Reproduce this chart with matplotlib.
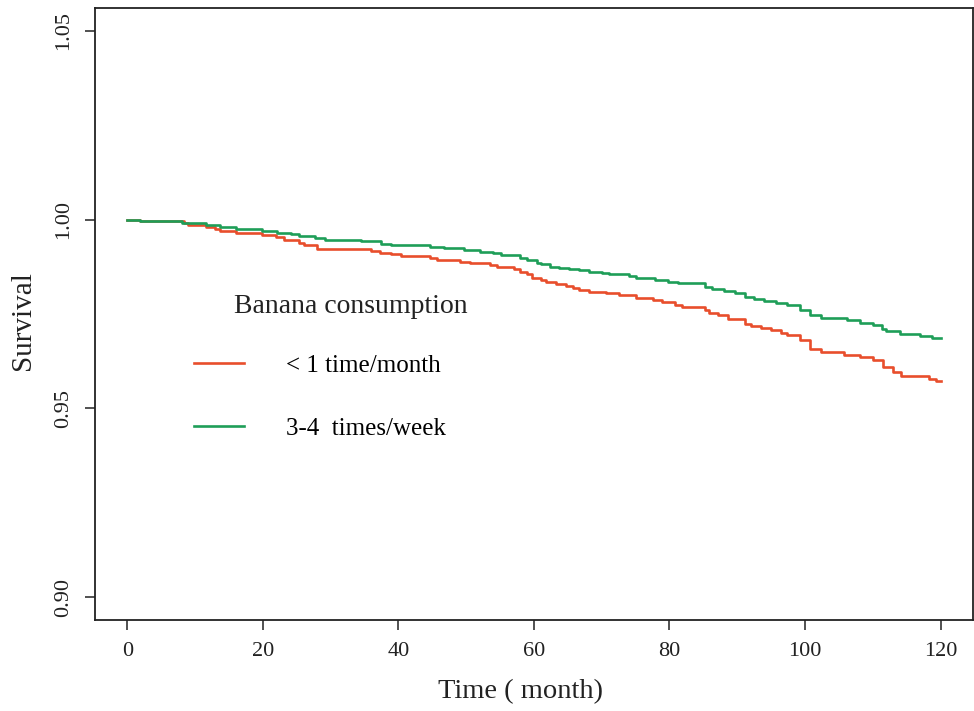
import matplotlib
matplotlib.use("Agg")
import matplotlib.pyplot as plt

plt.rcParams['font.family'] = ['Liberation Serif', 'DejaVu Serif']

# step times (month) and survival after each step
time_green = [0, 1.9, 8.0, 11.65, 13.6, 16.05, 19.9, 22.1, 24.1, 25.3, 27.7, 29.2,
              34.5, 37.4, 38.9, 44.7, 46.7, 49.6, 52.0, 54.0, 55.2, 57.9, 58.9, 60.4,
              61.1, 62.3, 63.7, 65.2, 66.6, 68.1, 70.1, 71.0, 74.0, 75.0, 77.9, 79.8,
              81.3, 85.2, 86.2, 88.1, 89.6, 91.1, 92.5, 94.0, 95.7, 97.4, 99.3, 100.8,
              102.3, 106.2, 108.1, 110.1, 111.3, 112.0, 114.0, 116.9, 118.8, 120]
surv_green = [1.0, 0.99952, 0.99907, 0.99862, 0.99809, 0.99739, 0.99686, 0.99641, 0.99614,
              0.99569, 0.99508, 0.99468, 0.99420, 0.99356, 0.99330, 0.99269, 0.99242,
              0.99197, 0.99154, 0.99109, 0.99064, 0.98995, 0.98931, 0.98862, 0.98816,
              0.98755, 0.98729, 0.98691, 0.98657, 0.98622, 0.98577, 0.98551, 0.98505,
              0.98463, 0.98399, 0.98356, 0.98311, 0.98223, 0.98160, 0.98106, 0.98045,
              0.97957, 0.97894, 0.97851, 0.97798, 0.97734, 0.97601, 0.97468, 0.97399,
              0.97335, 0.97274, 0.97221, 0.97114, 0.97043, 0.96963, 0.96910, 0.96875,
              0.96875]

time_red = [0, 1.9, 8.3, 9.0, 11.65, 12.9, 13.6, 16.05, 19.9, 21.9, 23.1, 25.3, 26.0,
            27.9, 36.0, 37.2, 38.9, 40.4, 44.7, 45.7, 49.1, 50.6, 53.5, 54.5, 57.0,
            57.9, 58.9, 59.7, 61.1, 61.8, 63.3, 64.7, 65.7, 66.6, 68.1, 70.6, 72.5,
            75.0, 77.5, 78.9, 80.8, 81.8, 85.2, 85.9, 87.1, 88.6, 91.1, 92.0, 93.5,
            95.0, 96.4, 97.4, 99.3, 100.8, 102.3, 105.7, 108.1, 110.1, 111.5, 113.0,
            114.2, 118.3, 119.3, 120]
surv_red = [1.0, 0.99952, 0.99907, 0.99846, 0.99801, 0.99755, 0.99686, 0.99641, 0.99596,
            0.99527, 0.99463, 0.99375, 0.99314, 0.99223, 0.99181, 0.99128, 0.99082,
            0.99048, 0.98995, 0.98931, 0.98888, 0.98862, 0.98798, 0.98755, 0.98684,
            0.98622, 0.98551, 0.98463, 0.98399, 0.98338, 0.98285, 0.98250, 0.98197,
            0.98133, 0.98090, 0.98045, 0.98000, 0.97931, 0.97867, 0.97806, 0.97734,
            0.97691, 0.97601, 0.97540, 0.97468, 0.97380, 0.97247, 0.97186, 0.97133,
            0.97069, 0.97008, 0.96936, 0.96803, 0.96582, 0.96495, 0.96423, 0.96362,
            0.96271, 0.96096, 0.95963, 0.95872, 0.95785, 0.95739, 0.95739]

x_ticks = [0, 20, 40, 60, 80, 100, 120]
y_ticks = [0.90, 0.95, 1.00, 1.05]
y_ticklabels = ['0.90', '0.95', '1.00', '1.05']
labels = ['< 1 time/month', '3-4  times/week']

fig = plt.figure(figsize=(9.74, 7.11), dpi=100)
ax = fig.add_axes([0.0975, 0.128, 0.9015, 0.8607])

l_red, = ax.step(time_red, surv_red, where='post', color='#E84E2C', lw=1.9)
l_green, = ax.step(time_green, surv_green, where='post', color='#1E9E58', lw=1.9)

ax.set_xlim(-4.8, 124.8)
ax.set_ylim(0.894, 1.056)
ax.set_xticks(x_ticks)
ax.set_yticks(y_ticks)
ax.set_yticklabels(y_ticklabels, rotation=90, va='center')
ax.tick_params(direction='out', length=7.5, width=1.1, labelsize=16, pad=8,
               color='#222222', labelcolor='#222222')
for s in ax.spines.values():
    s.set_linewidth(1.3)
    s.set_color('#222222')

ax.set_xlabel('Time ( month)', fontsize=20.5, color='#222222', va='center')
ax.xaxis.set_label_coords(0.485, -0.1176)
ax.set_ylabel('Survival', fontsize=21, color='#222222', va='center')
ax.yaxis.set_label_coords(-0.082, 0.489)

ax.text(0.158, 0.513, 'Banana consumption', transform=ax.transAxes,
        fontsize=20, ha='left', va='center', color='#222222')
ax.legend([l_red, l_green], labels, loc='upper left', bbox_to_anchor=(0.098, 0.454),
          frameon=False, fontsize=18, handlelength=2.0, handletextpad=1.7,
          labelspacing=1.62, borderpad=0)

fig.savefig('out.png', dpi=100)
